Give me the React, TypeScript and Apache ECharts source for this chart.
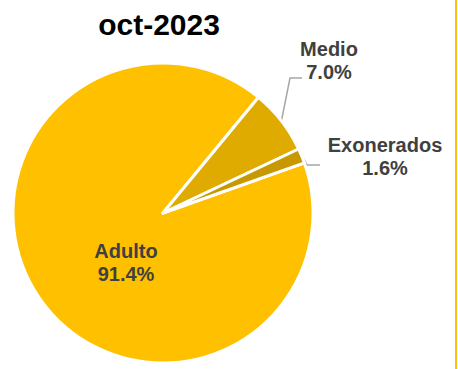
import React, { useEffect, useRef } from "react";
import * as echarts from "echarts";

const title = "oct-2023";
const categories = ["Adulto", "Medio", "Exonerados"];
const values = [91.4, 7.0, 1.6];
const colors = ["#FFC000", "#E0AB00", "#C89800"];

export default function App() {
  const ref = useRef<HTMLDivElement>(null);
  useEffect(() => {
    if (!ref.current) return;
    const chart = echarts.init(ref.current, null, { renderer: "svg" });
    const cx = 163;
    const cy = 213;
    const r = 150;
    const startAngle = 19.5;
    const total = values.reduce((a, b) => a + b, 0);
    // edge points at the middle of each slice (clockwise from startAngle)
    const edges: [number, number][] = [];
    let acc = startAngle;
    values.forEach((v) => {
      const span = (v / total) * 360;
      const mid = ((acc - span / 2) * Math.PI) / 180;
      edges.push([cx + r * Math.cos(mid), cy - r * Math.sin(mid)]);
      acc -= span;
    });
    const labelPos: Record<number, [number, number]> = {
      0: [126, 262],
      1: [329, 60],
      2: [385, 156],
    };
    const lineStyle = { stroke: "#A6A6A6", lineWidth: 1.5, fill: "none" };
    chart.setOption({
      animation: false,
      backgroundColor: "#ffffff",
      title: {
        text: title,
        left: 154,
        top: 4,
        textAlign: "center",
        textStyle: {
          fontFamily: "Liberation Sans, Arial, sans-serif",
          fontSize: 30,
          fontWeight: "bold",
          color: "#000000",
        },
      },
      graphic: [
        {
          type: "rect",
          shape: { x: 455, y: 0, width: 2, height: 369 },
          style: { fill: "#FFC000" },
          silent: true,
        },
        {
          type: "polyline",
          shape: { points: [edges[1], [290, 78], [302, 78]] },
          style: lineStyle,
          silent: true,
        },
        {
          type: "polyline",
          shape: { points: [edges[2], [307, 165], [320, 165]] },
          style: lineStyle,
          silent: true,
        },
      ],
      series: [
        {
          type: "pie",
          center: [cx, cy],
          radius: [0, r],
          startAngle: startAngle,
          clockwise: true,
          avoidLabelOverlap: false,
          itemStyle: { borderColor: "#ffffff", borderWidth: 3 },
          label: {
            show: true,
            position: "outside",
            formatter: (p: any) => `${p.name}\n${Number(p.value).toFixed(1)}%`,
            fontFamily: "Liberation Sans, Arial, sans-serif",
            fontSize: 20,
            fontWeight: "bold",
            lineHeight: 23,
            color: "#404040",
            align: "center",
          },
          labelLine: { show: false },
          labelLayout: (params: any) => {
            const pos = labelPos[params.dataIndex];
            return {
              x: pos[0],
              y: pos[1],
              align: "center",
              verticalAlign: "middle",
            };
          },
          data: categories.map((c, i) => ({
            name: c,
            value: values[i],
            itemStyle: { color: colors[i] },
            ...(i === 0 ? { label: { position: "inside" } } : {}),
          })),
        },
      ],
    });
    return () => chart.dispose();
  }, []);
  return (
    <div
      ref={ref}
      style={{ position: "absolute", left: 0, top: 0, width: 458, height: 369 }}
    />
  );
}
